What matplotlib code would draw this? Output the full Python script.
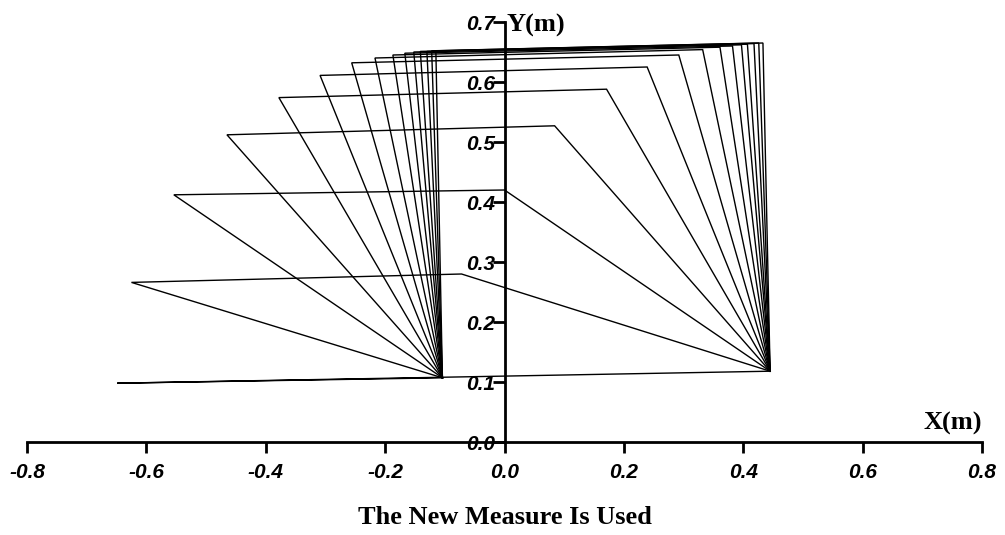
import matplotlib
matplotlib.use('Agg')
import matplotlib.pyplot as plt

# fixed pivots of the linkage (m)
left_foot = (-0.104, 0.107)
right_foot = (0.445, 0.118)

# moving joints for each drawn position (m)
left_top_x = [-0.649, -0.625, -0.554, -0.465, -0.378, -0.309, -0.256, -0.217,
              -0.187, -0.167, -0.152, -0.141, -0.130, -0.122, -0.115]
left_top_y = [0.098, 0.266, 0.412, 0.512, 0.574, 0.611, 0.632, 0.640,
              0.645, 0.648, 0.650, 0.651, 0.651, 0.652, 0.652]
right_top_x = [-0.100, -0.072, 0.000, 0.084, 0.171, 0.239, 0.292, 0.332,
               0.361, 0.382, 0.397, 0.407, 0.418, 0.426, 0.433]
right_top_y = [0.108, 0.280, 0.420, 0.527, 0.588, 0.625, 0.645, 0.654,
               0.658, 0.660, 0.662, 0.663, 0.664, 0.665, 0.665]

xticks = [-0.8, -0.6, -0.4, -0.2, 0.0, 0.2, 0.4, 0.6, 0.8]
xtick_labels = ['-0.8', '-0.6', '-0.4', '-0.2', '0.0', '0.2', '0.4', '0.6', '0.8']
yticks = [0.0, 0.1, 0.2, 0.3, 0.4, 0.5, 0.6, 0.7]
ytick_labels = ['0.0', '0.1', '0.2', '0.3', '0.4', '0.5', '0.6', '0.7']

fig = plt.figure(figsize=(10.05, 5.35), dpi=100)
ax = fig.add_axes([27 / 1005, (535 - 442) / 535, 955 / 1005, 420 / 535])

for px, py, qx, qy in zip(left_top_x, left_top_y, right_top_x, right_top_y):
    ax.plot([left_foot[0], px, qx, right_foot[0]],
            [left_foot[1], py, qy, right_foot[1]],
            color='black', lw=1.0, solid_joinstyle='miter', clip_on=False)

ax.set_xlim(-0.8, 0.8)
ax.set_ylim(0, 0.7)

ax.spines['top'].set_visible(False)
ax.spines['right'].set_visible(False)
ax.spines['left'].set_position(('data', 0))
ax.spines['left'].set_linewidth(2.0)
ax.spines['bottom'].set_linewidth(2.0)

tick_font = dict(family='Liberation Sans', weight='bold', style='italic', size=15)
ax.set_xticks(xticks)
ax.set_xticklabels(xtick_labels, fontdict=tick_font)
ax.set_yticks(yticks)
ax.set_yticklabels(ytick_labels, fontdict=tick_font)
ax.tick_params(axis='x', direction='out', length=8, width=2, pad=7)
ax.tick_params(axis='y', direction='out', length=9, width=2, pad=-2)
for lab in ax.get_yticklabels():
    lab.set_verticalalignment('center_baseline')

label_font = dict(family='Liberation Serif', weight='bold', size=19)
ax.text(0.004, 0.695, 'Y(m)', ha='left', va='center', **label_font)
ax.text(0.8, 0.012, 'X(m)', ha='right', va='bottom', **label_font)
fig.text(505 / 1005, 1 - 518 / 535, 'The New Measure Is Used',
         ha='center', va='center', family='Liberation Serif', weight='bold', size=19)

fig.savefig('out.png', dpi=100)
